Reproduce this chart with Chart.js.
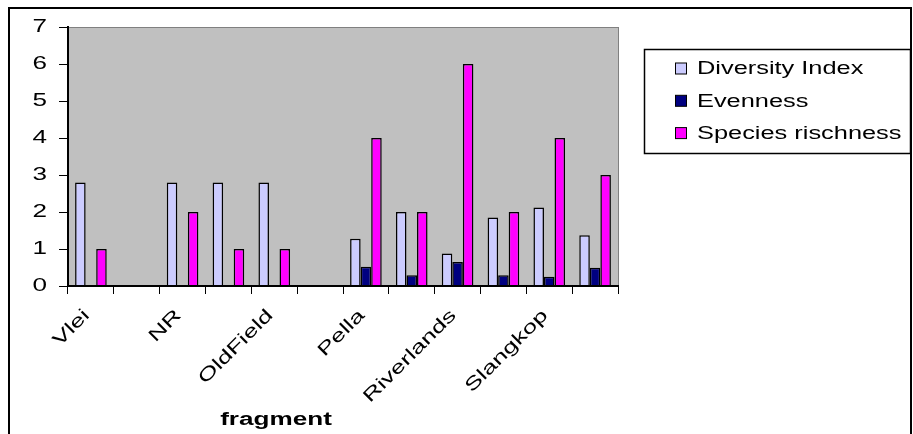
<!DOCTYPE html>
<html>
<head>
<meta charset="utf-8">
<script src="https://cdn.jsdelivr.net/npm/chart.js@4.4.1/dist/chart.umd.min.js"></script>
<style>
  html, body { margin: 0; padding: 0; background: #fff; overflow: hidden; }
  canvas { display: block; }
</style>
</head>
<body>
<canvas id="c" width="913" height="434"></canvas>
<script>
// Fragments along the x axis; every second slot carries no name.
const categories = ['Vlei', '', 'NR', '', 'OldField', '', 'Pella', '', 'Riverlands', '', 'Slangkop', ''];
const diversityIndex = [2.8, null, 2.8, 2.8, 2.8, null, 1.28, 2.0, 0.88, 1.85, 2.12, 1.37];
const evenness = [null, null, null, null, null, null, 0.52, 0.29, 0.65, 0.29, 0.25, 0.49];
const speciesRichness = [1, null, 2, 1, 1, null, 4, 2, 6, 2, 4, 3];
const seriesNames = ['Diversity Index', 'Evenness', 'Species rischness'];
const seriesColors = ['#CCCCFF', '#000080', '#FF00FF'];
const yTicks = [0, 1, 2, 3, 4, 5, 6, 7];
const axisTitle = 'fragment';

const FONT = "'Liberation Sans', Arial, sans-serif";

const canvas = document.getElementById('c');
const ctx = canvas.getContext('2d');

// All lettering in this chart is set wide: stretch each string along its own
// baseline and report the stretched width so the layout makes room for it.
const WIDEN = 1.45;
const baseFill = ctx.fillText.bind(ctx);
const baseMeasure = ctx.measureText.bind(ctx);
ctx.fillText = function (text, x, y) {
  this.save();
  this.translate(x, y);
  this.scale(WIDEN, 1);
  baseFill(text, 0, 0);
  this.restore();
};
ctx.measureText = function (text) {
  const m = baseMeasure(text);
  return {
    width: m.width * WIDEN,
    actualBoundingBoxAscent: m.actualBoundingBoxAscent,
    actualBoundingBoxDescent: m.actualBoundingBoxDescent,
    actualBoundingBoxLeft: m.actualBoundingBoxLeft * WIDEN,
    actualBoundingBoxRight: m.actualBoundingBoxRight * WIDEN,
    fontBoundingBoxAscent: m.fontBoundingBoxAscent,
    fontBoundingBoxDescent: m.fontBoundingBoxDescent
  };
};

// Grey plot area, outer frame, boxed legend and the axis title.
const framePlugin = {
  id: 'frame',
  beforeDraw(chart) {
    const c = chart.ctx;
    const a = chart.chartArea;
    c.save();
    c.fillStyle = '#fff';
    c.fillRect(0, 0, chart.width, chart.height);
    c.fillStyle = '#C0C0C0';
    c.fillRect(a.left, a.top, a.right - a.left, a.bottom - a.top);
    c.strokeStyle = '#808080';
    c.lineWidth = 1;
    c.strokeRect(a.left + 0.5, a.top + 0.5, a.right - a.left, a.bottom - a.top);
    c.restore();
  },
  afterDraw(chart) {
    const c = chart.ctx;
    c.save();
    // outer frame
    c.strokeStyle = '#000';
    c.lineWidth = 2;
    c.beginPath();
    c.moveTo(9, 440);
    c.lineTo(9, 8);
    c.lineTo(911, 8);
    c.lineTo(911, 440);
    c.stroke();

    // legend
    c.lineWidth = 1.5;
    c.strokeRect(644.5, 49.5, 266, 104);
    c.font = '17.5px ' + FONT;
    c.textBaseline = 'middle';
    c.textAlign = 'left';
    chart.data.datasets.forEach((ds, i) => {
      const cy = 68.5 + i * 32.3;
      c.fillStyle = ds.backgroundColor;
      c.fillRect(675.5, cy - 5.5, 11, 11);
      c.lineWidth = 1;
      c.strokeStyle = '#000';
      c.strokeRect(675.5, cy - 5.5, 11, 11);
      c.fillStyle = '#000';
      c.fillText(ds.label, 697, cy + 1);
    });

    // x axis title
    c.font = 'bold 18px ' + FONT;
    c.textAlign = 'center';
    c.textBaseline = 'alphabetic';
    c.fillStyle = '#000';
    c.fillText(axisTitle, 276, 425);
    c.restore();
  }
};

const seriesData = [diversityIndex, evenness, speciesRichness];

new Chart(canvas, {
  type: 'bar',
  data: {
    labels: categories,
    datasets: seriesData.map((d, i) => ({
      label: seriesNames[i],
      data: d,
      backgroundColor: seriesColors[i],
      borderColor: '#000',
      borderWidth: 1.5,
      categoryPercentage: 0.69,
      barPercentage: 1
    }))
  },
  options: {
    responsive: false,
    animation: false,
    devicePixelRatio: 1,
    layout: { padding: { top: 27, right: 295, left: 0, bottom: 0 } },
    plugins: {
      legend: { display: false },
      tooltip: { enabled: false }
    },
    scales: {
      x: {
        ticks: {
          color: '#000',
          font: { family: FONT, size: 18 },
          autoSkip: false,
          minRotation: 45,
          maxRotation: 45,
          padding: 11,
          labelOffset: -4
        },
        grid: { drawOnChartArea: false, tickLength: 8, color: '#000', offset: true },
        border: { display: true, color: '#000', width: 2, z: 1 },
        afterFit(scale) { scale.height = 148; }
      },
      y: {
        min: 0,
        max: 7,
        afterBuildTicks(scale) { scale.ticks = yTicks.map(v => ({ value: v })); },
        ticks: {
          color: '#000',
          font: { family: FONT, size: 18 },
          padding: 12
        },
        grid: { drawOnChartArea: false, tickLength: 9, color: '#000' },
        border: { display: true, color: '#000', width: 2, z: 1 },
        afterFit(scale) { scale.width = 68; }
      }
    }
  },
  plugins: [framePlugin]
});
</script>
</body>
</html>
